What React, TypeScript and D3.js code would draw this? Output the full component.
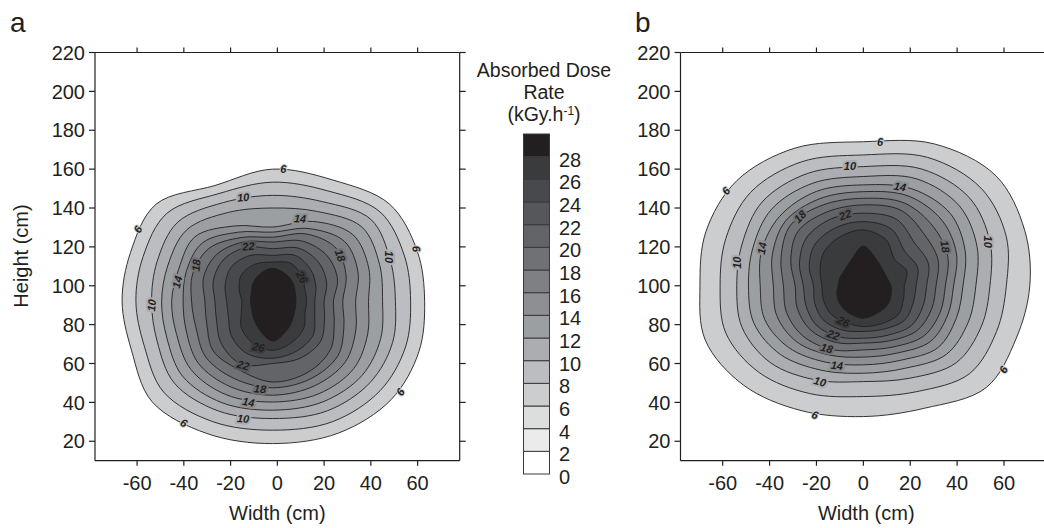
import React from 'react';
import * as d3 from 'd3';

// Dose-rate contour levels (kGy/h) and the direction of each radius sample (degrees)
const LEVELS = [6, 8, 10, 12, 14, 16, 18, 20, 22, 24, 26, 28];
const SPOKE_ANGLES = [90, 67.5, 45, 22.5, 0, -22.5, -45, -67.5, -90, -112.5, -135, -157.5, 180, 157.5, 135, 112.5];

// Panel a: contour radii (cm) from the field centre, one row per level
const centerA: [number, number] = [-2, 92];
const radiiA: number[][] = [
  [68, 67.5, 70.7, 67, 65, 67.7, 71.6, 73.4, 73.2, 73.6, 73, 65.4, 64.4, 65.8, 70.6, 64.5],
  [61.3, 61.5, 65, 61, 59, 61.5, 65, 67, 66.3, 67, 66, 59.5, 58.5, 60, 64, 60],
  [54.5, 55.5, 59.5, 54.5, 52.5, 55.5, 59, 61, 60.3, 61, 59.5, 53.5, 51.8, 53.5, 57.5, 55],
  [48, 50, 54, 49.5, 47, 50, 54, 56, 56, 56.5, 54.5, 49, 47.5, 48.5, 52, 49.5],
  [38.2, 44.5, 48.5, 44.5, 41, 44, 49, 51.5, 51.8, 52, 49.5, 44.5, 43.2, 43.5, 47, 42],
  [35.6, 40.5, 43.5, 39.5, 35.5, 38.5, 44, 47, 48.3, 47.5, 45, 40, 38.3, 40, 42.5, 38.5],
  [33, 37.5, 38.5, 34, 30, 33, 39.5, 43, 44.5, 43, 40.5, 35.5, 34.7, 37, 38.5, 35.5],
  [30.5, 33.5, 33, 30, 26, 28.5, 35, 39.5, 41.5, 38, 36, 30.5, 29, 32, 34, 33],
  [27.1, 29.5, 28, 25, 22, 24, 29, 31.5, 32, 35, 31, 26, 24.7, 27.5, 30, 30],
  [23.6, 25.5, 23, 20, 18, 19.5, 24.5, 27.5, 29.3, 29, 25, 20.5, 19.7, 22, 25, 25.5],
  [20.2, 21, 17.7, 15, 14.5, 15, 19, 22.5, 25.2, 23, 19, 14.5, 13.2, 15.5, 19, 20.5],
  [17, 15, 12.6, 10.5, 10, 10.4, 12.3, 16, 20.5, 15.4, 11.7, 9.8, 9.5, 9.9, 12.2, 14.9],
];

// Panel b: contour radii (cm) from the field centre, one row per level
const centerB: [number, number] = [0, 100];
const radiiB: number[][] = [
  [74.1, 79, 80, 74.5, 71, 70.6, 74.1, 68.2, 67.3, 69.5, 72.3, 73, 69.7, 72.7, 76.4, 76.6],
  [67.3, 71.5, 71, 66, 61, 61.5, 64, 59, 57, 60, 63, 63.5, 61.1, 63.5, 68, 69],
  [61.3, 65, 64, 58.5, 54, 54.5, 56, 51.5, 49.3, 52.5, 56, 56, 54, 56, 61, 62.5],
  [56.2, 59.5, 58, 52.5, 48, 48.5, 50, 46, 45, 47, 50, 50.5, 49, 51, 55.5, 57],
  [51.9, 54, 52.5, 47, 42.5, 43, 45, 41.5, 40.7, 42.5, 45, 45.5, 44, 47, 50.5, 52.5],
  [48.4, 50, 47.5, 43, 38.5, 39, 40.5, 37.5, 36.7, 38.5, 40.5, 40, 38.4, 42, 47, 48.5],
  [45, 46, 42.5, 39, 35, 35.5, 36.5, 34, 33, 35.5, 36.5, 35.5, 34.1, 38, 44, 45],
  [41.6, 42, 37, 34.5, 31, 31.5, 32.5, 30.5, 29.5, 31.5, 32, 30.5, 29.1, 33.5, 39.5, 41],
  [37.3, 37, 31, 30, 27, 27.5, 29, 27.5, 27, 28.3, 28.5, 26.5, 25.6, 29.5, 34.5, 37],
  [33, 31.5, 25, 25, 22.5, 23, 25, 24, 23.5, 24.5, 24.5, 22.5, 21.3, 25, 29.5, 32],
  [28.7, 25.5, 19, 20, 17.5, 18.5, 21, 21, 21, 20.3, 20, 18.5, 17.7, 20, 24, 27],
  [20.5, 14.6, 11.7, 10.9, 11.8, 12.8, 14.3, 15.3, 16.7, 15.4, 13.8, 12.2, 10.8, 10.8, 11.3, 14],
];

type ContourLabel = { level: number; x: number; y: number; angle: number };

const labelsA: ContourLabel[] = [
  { level: 6, x: 2.6, y: 160.2, angle: 0 },
  { level: 6, x: -59.7, y: 129, angle: -60 },
  { level: 6, x: -40, y: 29.5, angle: 30 },
  { level: 6, x: 52.6, y: 45.3, angle: -55 },
  { level: 6, x: 59.5, y: 119, angle: 80 },
  { level: 10, x: -14.6, y: 145.5, angle: -5 },
  { level: 10, x: -53.8, y: 89.9, angle: -85 },
  { level: 10, x: 47.6, y: 114.8, angle: 90 },
  { level: 10, x: -14.6, y: 31.7, angle: 5 },
  { level: 14, x: 9.7, y: 134.6, angle: 3 },
  { level: 14, x: -42.8, y: 101.9, angle: -75 },
  { level: 14, x: -12.4, y: 40.2, angle: 10 },
  { level: 18, x: -34.8, y: 110.5, angle: -85 },
  { level: 18, x: 26.9, y: 115.6, angle: 70 },
  { level: 18, x: -7.4, y: 47, angle: 5 },
  { level: 22, x: -12.4, y: 120.3, angle: -5 },
  { level: 22, x: -14.6, y: 59.1, angle: 15 },
  { level: 26, x: 10.5, y: 104.5, angle: 60 },
  { level: 26, x: -8.1, y: 68.5, angle: 10 },
];

const labelsB: ContourLabel[] = [
  { level: 6, x: 7.1, y: 174.1, angle: 0 },
  { level: 6, x: -58.6, y: 148.8, angle: -50 },
  { level: 6, x: -20.6, y: 33.6, angle: 20 },
  { level: 6, x: 59.7, y: 56.8, angle: -60 },
  { level: 10, x: -5.7, y: 161.6, angle: 0 },
  { level: 10, x: -54, y: 111.9, angle: -90 },
  { level: 10, x: 53.3, y: 122.7, angle: 90 },
  { level: 10, x: -18.5, y: 50.7, angle: 15 },
  { level: 14, x: 15.6, y: 151, angle: 10 },
  { level: 14, x: -43.3, y: 119.3, angle: -80 },
  { level: 14, x: -11.3, y: 59, angle: 5 },
  { level: 18, x: -27, y: 135.6, angle: -45 },
  { level: 18, x: 34.9, y: 120.2, angle: 80 },
  { level: 18, x: -15.6, y: 67.9, angle: 15 },
  { level: 22, x: -7.8, y: 136.5, angle: -20 },
  { level: 22, x: -12.8, y: 74.8, angle: 20 },
  { level: 26, x: -8.5, y: 81.6, angle: 25 },
];

const yTicks = [20, 40, 60, 80, 100, 120, 140, 160, 180, 200, 220];
const xTicks = [-60, -40, -20, 0, 20, 40, 60];
const legendValues = [0, 2, 4, 6, 8, 10, 12, 14, 16, 18, 20, 22, 24, 26, 28];
// Fill for each 2 kGy/h band, 0-2 up to 28-30
const bandColors = [
  '#ffffff', '#ebebeb', '#dcdddd', '#cbcdcf', '#bbbdc0', '#abadb0', '#9c9fa2', '#8d8f92',
  '#7e8083', '#6f7174', '#626467', '#55575a', '#48494c', '#3a3b3d', '#231f20',
];

const FONT = '"Liberation Sans", Arial, Helvetica, sans-serif';
const INK = '#231f20';
const X_DOMAIN: [number, number] = [-78, 78];
const Y_DOMAIN: [number, number] = [10, 220];
const Y_RANGE: [number, number] = [460.7, 52.5];

function contourPoints(center: [number, number], radii: number[]): [number, number][] {
  return radii.map((r, k) => {
    const a = (SPOKE_ANGLES[k] * Math.PI) / 180;
    return [center[0] + r * Math.cos(a), center[1] + r * Math.sin(a)];
  });
}

function Panel(props: {
  xRange: [number, number];
  center: [number, number];
  radii: number[][];
  labels: ContourLabel[];
  letter: string;
  letterX: number;
}) {
  const { xRange, center, radii, labels, letter, letterX } = props;
  const xs = d3.scaleLinear().domain(X_DOMAIN).range(xRange);
  const ys = d3.scaleLinear().domain(Y_DOMAIN).range(Y_RANGE);
  const line = d3
    .line<[number, number]>()
    .x((d) => xs(d[0]))
    .y((d) => ys(d[1]))
    .curve(d3.curveCatmullRomClosed.alpha(0.5));

  const [x0, x1] = xRange;
  const yTop = ys(220);
  const yBot = ys(10);
  const T = 5;
  const visibleRight = Math.min(x1, 1044);

  return (
    <g>
      {radii.map((r, i) => (
        <path
          key={LEVELS[i]}
          d={line(contourPoints(center, r)) || ''}
          fill={bandColors[LEVELS[i] / 2]}
          stroke={INK}
          strokeWidth={0.9}
        />
      ))}
      {labels.map((lb, i) => (
        <text
          key={i}
          transform={`translate(${xs(lb.x)},${ys(lb.y)}) rotate(${lb.angle})`}
          textAnchor="middle"
          dy="0.36em"
          fontFamily={FONT}
          fontWeight="bold"
          fontStyle="italic"
          fontSize={11}
          fill={INK}
          stroke={bandColors[lb.level / 2]}
          strokeWidth={lb.level === 6 ? 2 : 4}
          paintOrder="stroke"
        >
          {lb.level}
        </text>
      ))}
      {/* frame with outward ticks on all four sides */}
      <g stroke={INK} strokeWidth={1.2} fill="none">
        <line x1={x0} x2={x1} y1={yTop} y2={yTop} />
        <line x1={x0} x2={x1} y1={yBot} y2={yBot} />
        <line x1={x0} x2={x0} y1={yTop} y2={yBot} />
        <line x1={x1} x2={x1} y1={yTop} y2={yBot} />
        {yTicks.map((t) => (
          <g key={'y' + t}>
            <line x1={x0 - 6} x2={x0} y1={ys(t)} y2={ys(t)} />
            <line x1={x1} x2={x1 + 6} y1={ys(t)} y2={ys(t)} />
          </g>
        ))}
        {xTicks.map((t) => (
          <g key={'x' + t}>
            <line x1={xs(t)} x2={xs(t)} y1={yTop - T} y2={yTop} />
            <line x1={xs(t)} x2={xs(t)} y1={yBot} y2={yBot + T} />
          </g>
        ))}
      </g>
      <g fontFamily={FONT} fontSize={20} fill={INK}>
        {yTicks.map((t) => (
          <text key={'yl' + t} x={x0 - 10} y={ys(t)} dy="0.36em" textAnchor="end">
            {t}
          </text>
        ))}
        {xTicks.map((t) => (
          <text key={'xl' + t} x={xs(t)} y={490} textAnchor="middle">
            {t}
          </text>
        ))}
        <text x={(x0 + visibleRight) / 2 + (x1 > 1044 ? 4 : 0)} y={520} textAnchor="middle">
          Width (cm)
        </text>
        <text x={letterX} y={32} fontSize={28}>
          {letter}
        </text>
      </g>
    </g>
  );
}

function Legend() {
  const ys = d3.scaleLinear().domain([0, 30]).range([474, 134]);
  const x = 523.5;
  const w = 26;
  return (
    <g fontFamily={FONT} fill={INK}>
      {bandColors.map((c, i) => (
        <rect
          key={i}
          x={x}
          y={ys(i * 2 + 2)}
          width={w}
          height={ys(i * 2) - ys(i * 2 + 2)}
          fill={c}
          stroke="#3a3a3a"
          strokeWidth={1}
        />
      ))}
      {legendValues.map((v) => (
        <text key={v} x={559} y={ys(v) + 10} fontSize={20}>
          {v}
        </text>
      ))}
      <g fontSize={19.5} textAnchor="middle">
        <text x={544} y={77}>Absorbed Dose</text>
        <text x={544} y={99}>Rate</text>
        <text x={544} y={121}>
          (kGy.h<tspan dy={-6} fontSize={12}>-1</tspan>
          <tspan dy={6}>)</tspan>
        </text>
      </g>
    </g>
  );
}

export default function App() {
  return (
    <svg
      width={1044}
      height={528}
      viewBox="0 0 1044 528"
      style={{ position: 'absolute', left: 0, top: 0, background: '#fff' }}
    >
      <rect width={1044} height={528} fill="#fff" />
      <Panel xRange={[95, 459.7]} center={centerA} radii={radiiA} labels={labelsA} letter="a" letterX={10} />
      <Panel xRange={[680.5, 1046.2]} center={centerB} radii={radiiB} labels={labelsB} letter="b" letterX={635} />
      <text
        transform="translate(28,256) rotate(-90)"
        textAnchor="middle"
        fontFamily={FONT}
        fontSize={20}
        fill={INK}
      >
        Height (cm)
      </text>
      <Legend />
    </svg>
  );
}
